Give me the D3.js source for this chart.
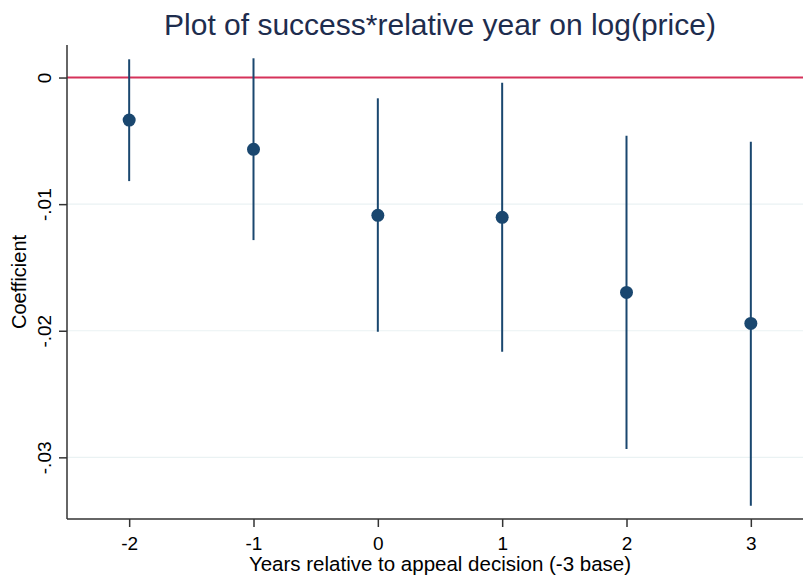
<!DOCTYPE html>
<html>
<head>
<meta charset="utf-8">
<script src="https://cdn.jsdelivr.net/npm/d3@7"></script>
<style>
  body { margin: 0; background: #fff; }
  text { font-family: "Liberation Sans", Arial, sans-serif; }
</style>
</head>
<body>
<div id="chart"></div>
<script>
// relative years and estimates
const years = [-2, -1, 0, 1, 2, 3];
const coef = [-0.00336, -0.00567, -0.01088, -0.01104, -0.01697, -0.01942];
const ciHigh = [0.00144, 0.00152, -0.00164, -0.00041, -0.00460, -0.00507];
const ciLow = [-0.00818, -0.01284, -0.02008, -0.02166, -0.02934, -0.03382];
const yTicks = [0, -0.01, -0.02, -0.03];
const yTickLabels = ["0", "-.01", "-.02", "-.03"];

const data = years.map((yr, i) => ({ yr: yr, b: coef[i], hi: ciHigh[i], lo: ciLow[i] }));

const W = 803, H = 577;
const margin = { top: 45, right: -10, bottom: 58, left: 67 };
const width = W - margin.left - margin.right,
      height = H - margin.top - margin.bottom;

const svg = d3.select("#chart")
  .append("svg")
    .attr("width", W)
    .attr("height", H);

const g = svg.append("g")
  .attr("transform", `translate(${margin.left},${margin.top})`);

const x = d3.scaleLinear()
  .domain([-2.5, 3.5])
  .range([0, width]);

const y = d3.scaleLinear()
  .domain([-0.03487, 0.00257])
  .range([height, 0]);

// gridlines
g.append("g")
  .selectAll("line")
  .data(yTicks.filter(d => d !== 0))
  .enter()
  .append("line")
    .attr("x1", 0)
    .attr("x2", width)
    .attr("y1", d => y(d))
    .attr("y2", d => y(d))
    .attr("stroke", "#eaf2f3")
    .attr("stroke-width", 1.2);

// zero reference line
g.append("line")
  .attr("x1", 0)
  .attr("x2", width)
  .attr("y1", y(0))
  .attr("y2", y(0))
  .attr("stroke", "#d6325a")
  .attr("stroke-width", 2);

// y axis
const yAxis = g.append("g")
  .call(d3.axisLeft(y).tickValues(yTicks).tickSize(8).tickFormat((d, i) => yTickLabels[i]));
yAxis.select(".domain").attr("stroke", "#333").attr("stroke-width", 1.5).attr("d", `M0,0V${height}`);
yAxis.selectAll(".tick line").attr("stroke", "#333").attr("stroke-width", 1.5);
yAxis.selectAll(".tick text")
  .attr("transform", "rotate(-90)")
  .attr("x", 0)
  .attr("y", -16)
  .attr("dy", 0)
  .attr("text-anchor", "middle")
  .style("font-size", "19px")
  .attr("fill", "#000");

// x axis
const xAxis = g.append("g")
  .attr("transform", `translate(0,${height})`)
  .call(d3.axisBottom(x).tickValues(years).tickSize(8).tickFormat(d => String(d)));
xAxis.select(".domain").attr("stroke", "#333").attr("stroke-width", 1.5).attr("d", `M0,0H${width}`);
xAxis.selectAll(".tick line").attr("stroke", "#333").attr("stroke-width", 1.5);
xAxis.selectAll(".tick text")
  .attr("y", 31)
  .attr("dy", 0)
  .style("font-size", "19px")
  .attr("fill", "#000");

// confidence intervals
g.append("g")
  .selectAll("line")
  .data(data)
  .enter()
  .append("line")
    .attr("x1", d => x(d.yr))
    .attr("x2", d => x(d.yr))
    .attr("y1", d => y(d.hi))
    .attr("y2", d => y(d.lo))
    .attr("stroke", "#1a476f")
    .attr("stroke-width", 2);

// point estimates
g.append("g")
  .selectAll("circle")
  .data(data)
  .enter()
  .append("circle")
    .attr("cx", d => x(d.yr))
    .attr("cy", d => y(d.b))
    .attr("r", 6.5)
    .style("fill", "#1a476f");

// title
svg.append("text")
  .attr("x", margin.left + width / 2)
  .attr("y", 35)
  .attr("text-anchor", "middle")
  .style("font-size", "30px")
  .attr("fill", "#1e2d4e")
  .text("Plot of success*relative year on log(price)");

// axis titles
svg.append("text")
  .attr("x", margin.left + width / 2)
  .attr("y", 571)
  .attr("text-anchor", "middle")
  .style("font-size", "20.5px")
  .attr("fill", "#000")
  .text("Years relative to appeal decision (-3 base)");

svg.append("text")
  .attr("transform", "rotate(-90)")
  .attr("x", -(margin.top + height / 2))
  .attr("y", 26)
  .attr("text-anchor", "middle")
  .style("font-size", "20px")
  .attr("fill", "#000")
  .text("Coefficient");
</script>
</body>
</html>
